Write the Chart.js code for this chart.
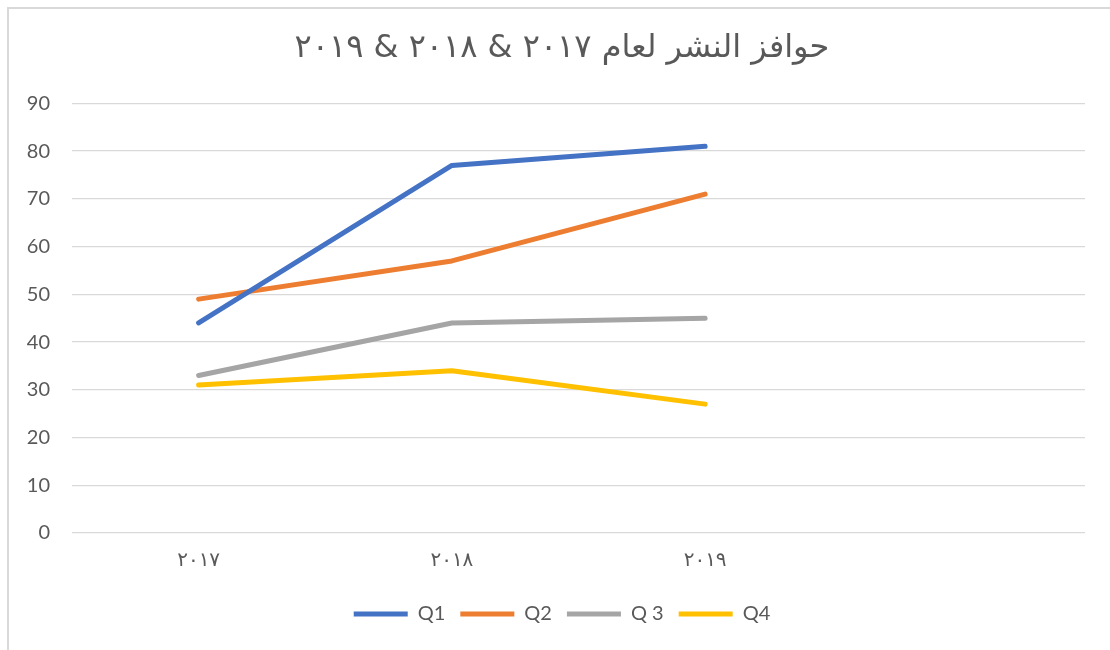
<!DOCTYPE html>
<html>
<head>
<meta charset="utf-8">
<script src="https://cdn.jsdelivr.net/npm/chart.js@4"></script>
<style>
html,body{margin:0;padding:0;background:#fff;width:1110px;height:650px;overflow:hidden;}
#frame{position:absolute;left:7px;top:7px;width:1200px;height:700px;border-left:2px solid #d9d9d9;border-top:2px solid #d9d9d9;box-sizing:border-box;}
#wrap{position:absolute;left:0;top:0;width:1110px;height:650px;}
</style>
</head>
<body>
<div id="frame"></div>
<div id="wrap"><canvas id="c" width="1110" height="650"></canvas></div>
<script>
const titleText = 'حوافز النشر لعام ٢٠١٧ & ٢٠١٨ & ٢٠١٩';
const categories = ['٢٠١٧', '٢٠١٨', '٢٠١٩', ''];
const seriesNames = ['Q1', 'Q2', 'Q 3', 'Q4'];
const q1 = [44, 77, 81, null];
const q2 = [49, 57, 71, null];
const q3 = [33, 44, 45, null];
const q4 = [31, 34, 27, null];
const yTicks = [0, 10, 20, 30, 40, 50, 60, 70, 80, 90];
const colors = ['#4472c4', '#ed7d31', '#a5a5a5', '#ffc000'];

const values = [q1, q2, q3, q4];
const datasets = values.map((v, i) => ({
  label: seriesNames[i],
  data: v,
  borderColor: colors[i],
  backgroundColor: colors[i],
  borderWidth: 5,
  borderCapStyle: 'round',
  borderJoinStyle: 'round',
  pointRadius: 0,
  pointHoverRadius: 0,
  tension: 0,
  fill: false
}));

// measure widest y label so mirrored (unclipped) labels end 22px left of the plot
const mctx = document.createElement('canvas').getContext('2d');
mctx.font = 'normal 20px Lato';
const widestY = Math.max(...yTicks.map(v => mctx.measureText(String(v)).width));

new Chart(document.getElementById('c'), {
  type: 'line',
  data: { labels: categories, datasets },
  options: {
    responsive: false,
    animation: false,
    devicePixelRatio: 1,
    layout: { padding: { top: 10, left: 39, right: 25, bottom: 16 } },
    plugins: {
      tooltip: { enabled: false },
      title: {
        display: true,
        text: titleText,
        color: '#595959',
        font: { family: 'DejaVu Sans', size: 32, weight: 'normal' },
        padding: { top: 19, bottom: 36 }
      },
      legend: {
        position: 'bottom',
        labels: {
          color: '#595959',
          font: { family: 'Lato', size: 20 },
          boxWidth: 54,
          boxHeight: 5,
          padding: 15,
          useBorderRadius: true,
          borderRadius: 2.5,
          generateLabels: (chart) => chart.data.datasets.map((ds, i) => ({
            text: ds.label,
            fillStyle: ds.borderColor,
            strokeStyle: ds.borderColor,
            lineWidth: 0,
            fontColor: '#595959',
            hidden: false,
            datasetIndex: i
          }))
        }
      }
    },
    scales: {
      x: {
        offset: true,
        grid: { display: false, drawTicks: false, offset: true },
        border: { display: false },
        ticks: {
          color: '#595959',
          font: { family: 'DejaVu Sans', size: 20 },
          padding: 16,
          maxRotation: 0,
          autoSkip: false
        },
        afterFit: (s) => { s.height = 56; }
      },
      y: {
        min: 0,
        max: 90,
        afterBuildTicks: (s) => { s.ticks = yTicks.map(v => ({ value: v })); },
        grid: { color: '#d9d9d9', lineWidth: 1.3, drawTicks: false },
        border: { display: false },
        ticks: {
          color: '#595959',
          font: { family: 'Lato', size: 20 },
          mirror: true,
          crossAlign: 'far',
          padding: -22 - widestY
        },
        afterFit: (s) => { s.width = 33; }
      }
    }
  }
});
</script>
</body>
</html>
